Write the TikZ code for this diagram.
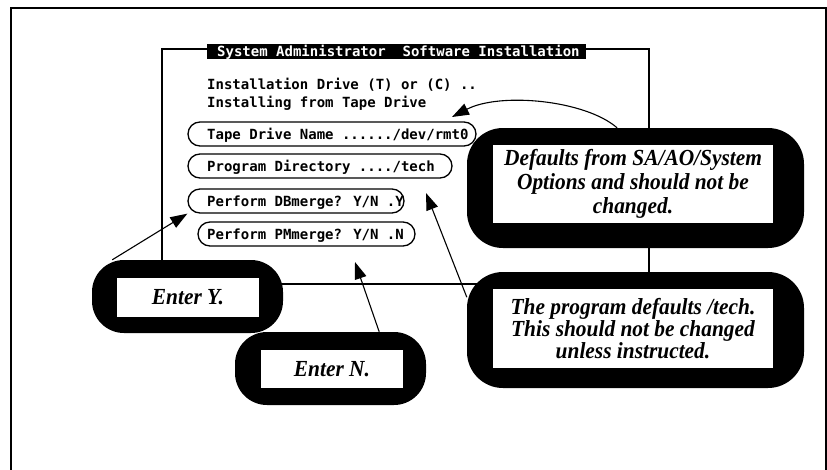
\documentclass[tikz,border=0pt]{standalone}
\usepackage{fontspec}
\setmainfont{Liberation Serif}
\newfontfamily\termfont{DejaVu Sans Mono}
\newfontfamily\calloutfont[FakeStretch=0.93]{Liberation Serif}
\usetikzlibrary{arrows.meta}

\begin{document}
\begin{tikzpicture}[x=1pt,y=-1pt,
  frame/.style={line width=2.6pt},
  winbox/.style={draw, line width=2pt, inner sep=0pt},
  pill/.style={draw, line width=1.3pt, rounded corners=12pt, minimum height=24pt, inner sep=0pt},
  term/.style={font=\termfont\bfseries\fontsize{14}{17}\selectfont, inner sep=0pt, anchor=base west},
  bubble/.style={fill=black, inner sep=0pt},
  callout/.style={fill=white, inner sep=0pt, align=center,
    font=\calloutfont\fontsize{23}{24}\selectfont\bfseries\itshape},
  pointer/.style={line width=1.1pt, -{Triangle[length=17pt,width=12pt]}}
]
\useasboundingbox (0,0) rectangle (827,469);

% page frame, open at the bottom
\draw[frame] (11,472) -- (11,8) -- (826,8) -- (826,472);

% terminal window
\node[winbox, minimum width=487pt, minimum height=235pt] (win) at (405.5,166.5) {};
\node[fill=black, inner sep=0pt, minimum width=379pt, minimum height=15pt] (tbar) at (396.5,51.5) {};
\node[term, text=white] (ttl) at (217,56.5) {System Administrator~~Software Installation};

\node[term] (l1) at (207,89) {Installation Drive (T) or (C) ..};
\node[term] (l2) at (207,107) {Installing from Tape Drive};

% input fields
\node[pill, minimum width=288pt] (p1) at (332,134) {};
\node[pill, minimum width=264pt] (p2) at (320,166) {};
\node[pill, minimum width=216pt] (p3) at (296,201) {};
\node[pill, minimum width=217pt] (p4) at (306.5,234) {};
\node[term] (t1) at (207,139) {Tape Drive Name ....../dev/rmt0};
\node[term] (t2) at (207,171) {Program Directory ..../tech};
\node[term] (t3) at (207,206) {Perform DBmerge? Y/N .Y};
\node[term] (t4) at (207,239) {Perform PMmerge? Y/N .N};

% callouts
\node[bubble, rounded corners=36pt, minimum width=337pt, minimum height=120pt] (db) at (635.5,188) {};
\node[callout, minimum width=280pt, minimum height=78pt] (dbt) at (633,184)
  {Defaults from SA/AO/System\\Options and should not be\\changed.};

\node[bubble, rounded corners=36pt, minimum width=337pt, minimum height=116pt] (pb) at (635.5,330) {};
\node[callout, minimum width=280pt, minimum height=79pt,
  font=\calloutfont\fontsize{23}{22}\selectfont\bfseries\itshape] (pbt) at (633,328.5)
  {The program defaults /tech.\\This should not be changed\\unless instructed.};

\node[bubble, rounded corners=32pt, minimum width=191pt, minimum height=73pt] (ey) at (187.5,296.5) {};
\node[callout, minimum width=142pt, minimum height=39pt] (eyt) at (188,297.5) {Enter Y.};

\node[bubble, rounded corners=32pt, minimum width=191pt, minimum height=73pt] (en) at (330.5,368.5) {};
\node[callout, minimum width=142pt, minimum height=38pt] (ent) at (332,369) {Enter N.};

% pointers
\coordinate (tipA) at (452,117);
\coordinate (tipN) at (355,262);
\coordinate (tipT) at (426,193);
\draw[pointer] (db.107) .. controls (585,100) and (500,92) .. (tipA);
\draw[pointer] (ey.154) -- (p3.south west);
\draw[pointer] (en.37) -- (tipN);
\draw[pointer] (pb.169) -- (tipT);
\end{tikzpicture}
\end{document}
